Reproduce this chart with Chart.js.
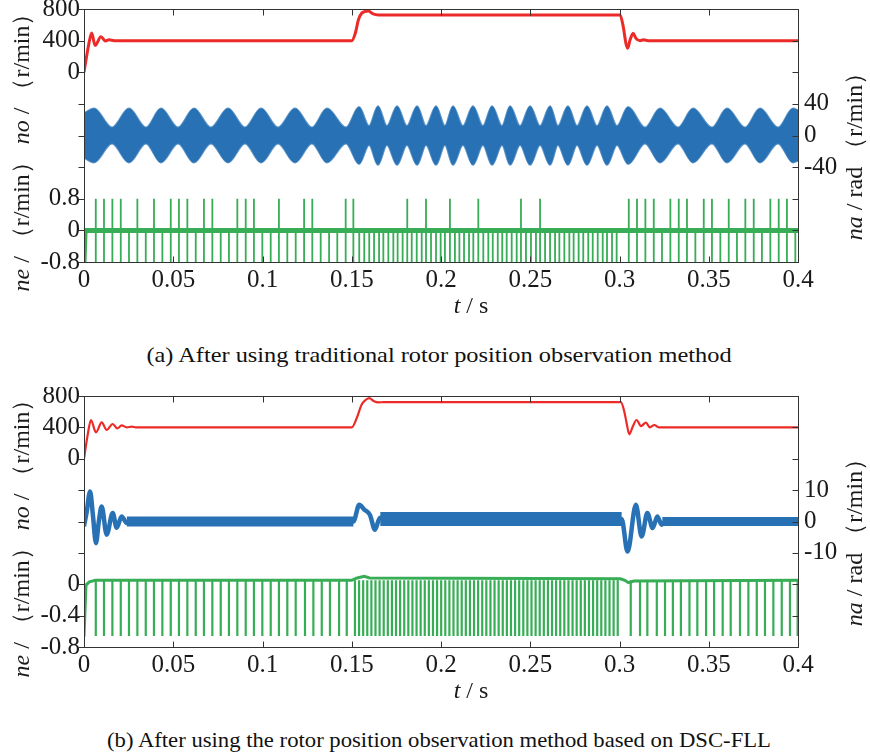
<!DOCTYPE html>
<html>
<head>
<meta charset="utf-8">
<script src="https://cdn.jsdelivr.net/npm/chart.js@4.4.1/dist/chart.umd.min.js"></script>
<style>
    body { margin: 0; background: #fff; width: 870px; height: 756px; position: relative; overflow: hidden; }
    canvas { position: absolute; left: 0; }
    .cap { position: absolute; left: 0; width: 878px; text-align: center; font: 21px "Liberation Serif", "Times New Roman", serif; color: #111; }
</style>
</head>
<body>
<canvas id="chartA" width="870" height="330" style="top:0"></canvas>
<div class="cap" style="top:343px; transform: scaleX(1.16)">(a) After using traditional rotor position observation method</div>
<canvas id="chartB" width="870" height="330" style="top:387px"></canvas>
<div class="cap" style="top:728px; transform: scaleX(1.08)">(b) After using the rotor position observation method based on DSC-FLL</div>
<script>
// Etiquetas de los ejes
const xTickLabels = ["0", "0.05", "0.1", "0.15", "0.2", "0.25", "0.3", "0.35", "0.4"];
const leftTicksA = ["-0.8", "0", "0.8", "", "", "", "0", "400", "800"];
const rightTicksA = ["", "", "", "-40", "0", "40", "", "", ""];
const leftTicksB = ["-0.8", "-0.4", "0", "", "", "", "0", "400", "800"];
const rightTicksB = ["", "", "", "-10", "0", "10", "", "", ""];

const xTitle = [["t", true], [" / s", false]];
const leftTitle = [["ne", true], [" / （r/min） ", false], ["no", true], [" / （r/min）", false]];
const rightTitle = [["na", true], [" / rad （r/min）", false]];

// (a) velocidad (ms, r/min)
const redTimeA = [0, 2.8, 4.3, 6.2, 9.5, 12, 14, 17, 150, 152, 153.7, 155.5, 159.3, 162, 165, 300.3, 302.1, 303.6, 304.6, 305.9, 307.7, 309.2, 311.5, 313.4, 316, 400];
const redSpeedA = [0, 370, 496, 340, 450, 395, 410, 400, 400, 493, 661, 745, 775, 737, 725, 725, 576, 366, 303, 408, 492, 429, 400, 410, 400, 400];

// (a) envolvente del error de posición (ms, amplitud)
const blueEnvTimeA = [0, 5.6, 15.7, 25.2, 34.7, 43.1, 52.7, 61.6, 71.1, 80.7, 90.2, 99.2, 108.7, 118.2, 127.7, 136.1, 146.8,
    154.1, 159.7, 164.7, 169.7, 175.4, 180.9, 186.6, 191.6, 197.2, 202.2, 206.7, 212.3, 217.9, 223.5, 228.6, 234.2, 238.7, 244.3,
    249.9, 255.5, 261.1, 265.5, 271.1, 276.2, 281.8, 287.4, 293.0, 298.6,
    304.8, 314.3, 322.7, 332.8, 341.2, 351.8, 360.2, 370.3, 378.7, 388.8, 397.2, 400];
const blueEnvAmpA = [28, 34, 10, 34, 10, 34, 10, 34, 10, 34, 10, 34, 10, 34, 10, 34, 10,
    36, 12, 37, 12, 37, 12, 37, 12, 37, 12, 37, 12, 37, 12, 37, 12, 37, 12,
    37, 12, 37, 12, 37, 12, 37, 12, 37, 12,
    36, 10, 34, 10, 34, 10, 34, 10, 34, 10, 34, 32];

// (a) error de velocidad: línea base y picos (ms)
const greenBaseTimeA = [0, 0.6, 400];
const greenBaseA = [-0.8, 0, 0];
const spikeTimesA = [6.6, 11.2, 15.9, 20.6, 25.2, 29.9, 34.6, 39.2, 43.9, 48.6, 53.2, 57.9, 62.6, 67.2, 71.9, 76.6, 81.2, 85.9,
    90.6, 95.2, 99.9, 104.6, 109.2, 113.9, 118.6, 123.3, 127.9, 132.6, 137.3, 141.9, 146.6, 150.9,
    154.2, 157.0, 159.8, 162.5, 165.3, 167.7, 170.5, 173.3, 175.7, 178.5, 181.1, 183.6, 186.4, 189.2, 191.6, 194.4, 197.2,
    199.8, 202.2, 205.0, 207.8, 210.3, 212.9, 215.7, 218.1, 220.9, 223.7, 226.5, 229.0, 231.8, 234.3, 236.8, 239.6, 242.4,
    244.8, 247.6, 250.4, 253.2, 255.5, 258.3, 261.1, 263.9, 266.3, 269.1, 271.9, 274.3, 277.1, 279.7, 282.5, 285.0, 287.8,
    290.6, 293.0, 295.8, 298.4,
    305.2, 309.8, 314.5, 319.2, 323.8, 328.5, 333.2, 337.8, 342.5, 347.2, 351.8, 356.5, 361.2, 365.8, 370.5, 375.2, 379.8,
    384.5, 389.2, 393.8, 398.5];
const upSpikesA = [6.6, 11.2, 15.9, 20.6, 29.9, 39.2, 48.6, 53.2, 57.9, 67.2, 71.9, 85.9, 90.6, 95.2, 109.2, 123.3, 127.9,
    146.6, 150.9, 181.1, 191.6, 205.0, 220.9, 244.8, 255.5, 305.2, 309.8, 314.5, 319.2, 328.5, 333.2, 337.8, 347.2, 351.8,
    361.2, 370.5, 375.2, 384.5, 389.2, 393.8];
const spikeHighA = 0.8;
const spikeLowA = -0.8;

// (b) velocidad
const redTimeB = [0, 1.9, 3.9, 6.7, 9.9, 12.7, 16.1, 18.6, 21.1, 24, 26.8, 29, 150, 152.8, 155.5, 157.4, 159.8, 162.5, 165, 168,
    300.8, 302.7, 304, 305.5, 307.4, 309.6, 312, 314.8, 317, 319.5, 322, 400];
const redSpeedB = [0, 282, 494, 336, 464, 367, 443, 387, 425, 400, 410, 400, 400, 519, 689, 743, 772, 732, 718, 722,
    722, 600, 452, 312, 409, 494, 417, 460, 400, 430, 400, 400];

// (b) error de posición: transitorios y banda de ruido
const blueTimeB = [0, 1.5, 3.4, 5, 6.7, 8.3, 9.9, 12.7, 16.1, 18.3, 21.1, 24, 27, 150.9, 154.2, 157, 160.2, 163, 165.8, 168,
    301.2, 304.5, 309.2, 312.4, 315.6, 318.6, 321.2, 323.6, 326, 400];
const blueErrB = [-1.5, 3, 9.6, 2, -6.9, 0, 4.8, -4.2, 2.7, -2, 1.6, -0.5, 0, 0, 5.3, 3.8, 2.1, -2.6, 1.2, 0.8,
    0.8, -9.6, 5.3, -4.8, 2.7, -2.1, 1.6, -1, 0, 0];
const blueNoiseStartB = [24, 166, 324];
const blueNoiseEndB = [150.9, 301.2, 400];
const blueNoiseLevelB = [0, 0.8, 0];

// (b) error de velocidad
const greenBaseTimeB = [0, 1.1, 3, 6.5, 150, 153, 157, 160, 300.5, 303, 305, 308, 400];
const greenBaseB = [-0.67, -0.01, 0.03, 0.05, 0.05, 0.08, 0.1, 0.08, 0.07, 0.05, 0.02, 0.04, 0.05];
const spikeTimesB = [6.6, 11.2, 15.9, 20.6, 25.2, 29.9, 34.6, 39.2, 43.9, 48.6, 53.2, 57.9, 62.6, 67.2, 71.9, 76.6, 81.2, 85.9,
    90.6, 95.2, 99.9, 104.6, 109.2, 113.9, 118.6, 123.8, 128.5, 133.2, 137.8, 142.9, 147.2,
    151.8, 154.1, 156.4, 158.7, 161.0, 163.3, 165.6, 167.9, 170.2, 172.5, 174.8, 177.1, 179.4, 181.7, 184.0, 186.3, 188.6,
    190.9, 193.2, 195.5, 197.8, 200.1, 202.4, 204.7, 207.0, 209.3, 211.6, 213.9, 216.2, 218.5, 220.8, 223.1, 225.4, 227.7,
    230.0, 232.3, 234.6, 236.9, 239.2, 241.5, 243.8, 246.1, 248.4, 250.7, 253.0, 255.3, 257.6, 259.9, 262.2, 264.5, 266.8,
    269.1, 271.4, 273.7, 276.0, 278.3, 280.6, 282.9, 285.2, 287.5, 289.8, 292.1, 294.4, 296.7, 299.0,
    306.3, 311.5, 315.6, 320.9, 325.5, 329.9, 334.4, 339.2, 343.6, 348.5, 353.0, 357.8, 362.3, 367.5, 372.2, 376.9, 381.5,
    386.2, 390.9, 395.5, 399.8];
const spikeTopB = 0.05;
const spikeLowB = -0.66;

const RED = "#ec2a27";
const BLUE = "#2771b4";
const GREEN = "#37ad55";
const FONT = '"Liberation Serif", "Times New Roman", serif';

const pts = (xs, ys) => xs.map((x, i) => ({ x: x, y: ys[i] }));

// Picos verticales: arriba -> abajo -> corte
function spikePoints(times, ups, high, top, low) {
    const res = [];
    times.forEach((t) => {
        res.push({ x: t, y: ups.includes(t) ? high : top });
        res.push({ x: t, y: low });
        res.push({ x: t, y: null });
    });
    return res;
}

function drawRich(ctx, parts, x, y, angle) {
    ctx.save();
    ctx.translate(x, y);
    ctx.rotate(angle);
    ctx.textAlign = "left";
    ctx.textBaseline = "middle";
    ctx.fillStyle = "#1a1a1a";
    let total = 0;
    const widths = parts.map(([txt, it]) => {
        ctx.font = (it ? "italic " : "") + "24px " + FONT;
        const w = ctx.measureText(txt).width;
        total += w;
        return w;
    });
    let cx = -total / 2;
    parts.forEach(([txt, it], i) => {
        ctx.font = (it ? "italic " : "") + "24px " + FONT;
        ctx.fillText(txt, cx, 0);
        cx += widths[i];
    });
    ctx.restore();
}

// Marco, marcas de los ejes y títulos
const marco = {
    id: "marco",
    afterDraw(chart) {
        const { ctx, chartArea: a, scales } = chart;
        const L = Math.round(a.left) + 0.5, R = Math.round(a.right) + 0.5;
        const T = Math.round(a.top) + 0.5, B = Math.round(a.bottom) + 0.5;
        ctx.save();
        ctx.strokeStyle = "#333";
        ctx.lineWidth = 1;
        ctx.strokeRect(L, T, R - L, B - T);
        ctx.beginPath();
        scales.x.ticks.forEach((t) => {
            const px = Math.round(scales.x.getPixelForValue(t.value)) + 0.5;
            ctx.moveTo(px, T); ctx.lineTo(px, T + 6);
            ctx.moveTo(px, B); ctx.lineTo(px, B - 6);
        });
        scales.yRed.ticks.forEach((t) => {
            const py = Math.round(scales.yRed.getPixelForValue(t.value)) + 0.5;
            ctx.moveTo(L - 6, py); ctx.lineTo(L, py);
        });
        scales.yBlue.ticks.forEach((t) => {
            const py = Math.round(scales.yBlue.getPixelForValue(t.value)) + 0.5;
            ctx.moveTo(R - 6, py); ctx.lineTo(R, py);
        });
        ctx.stroke();
        ctx.restore();
        const cy = (a.top + a.bottom) / 2;
        drawRich(ctx, leftTitle, 23, cy + 11, -Math.PI / 2);
        drawRich(ctx, rightTitle, 856, cy + 15, -Math.PI / 2);
        drawRich(ctx, xTitle, (a.left + a.right) / 2 + 30, a.bottom + 45, 0);
    },
};

function crearPanel(id, p) {
    const datasets = [
        { data: pts(p.redTime, p.redVal), yAxisID: "yRed", borderColor: RED, borderWidth: p.redWidth,
            cubicInterpolationMode: "monotone" },
        { data: pts(p.greenTime, p.greenVal), yAxisID: "yGreen", borderColor: GREEN, borderWidth: p.greenWidth },
        { data: p.spikes, yAxisID: "yGreen", borderColor: GREEN, borderWidth: p.spikeWidth, spanGaps: false },
    ].concat(p.blue);

    datasets.forEach((d) => {
        d.pointRadius = 0;
    });

    const tickFont = { family: FONT, size: 25 };

    return new Chart(document.getElementById(id), {
        type: "line",
        data: { datasets: datasets },
        options: {
            responsive: false,
            animation: false,
            events: [],
            layout: { padding: { top: 9, left: 0, right: 0, bottom: 0 } },
            plugins: { legend: { display: false }, tooltip: { enabled: false } },
            scales: {
                x: {
                    type: "linear", min: 0, max: 400, position: "bottom",
                    grid: { display: false, drawTicks: false }, border: { display: false },
                    ticks: { stepSize: 50, autoSkip: false, maxRotation: 0, padding: 3, color: "#1a1a1a", font: tickFont,
                        callback: (v, i) => xTickLabels[i] },
                    afterFit: (s) => { s.height = p.xHeight; s.paddingLeft = 0; s.paddingRight = 0; },
                },
                yRed: {
                    position: "left", min: -2400, max: 800,
                    grid: { display: false, drawTicks: false }, border: { display: false },
                    ticks: { stepSize: 400, autoSkip: false, padding: 4, color: "#1a1a1a", font: tickFont,
                        callback: (v, i) => p.leftTicks[i] },
                    afterFit: (s) => { s.width = 84; s.paddingTop = 0; s.paddingBottom = 0; },
                },
                yBlue: {
                    position: "right", min: p.blueMin, max: p.blueMax,
                    grid: { display: false, drawTicks: false }, border: { display: false },
                    ticks: { stepSize: p.blueStep, autoSkip: false, padding: 6, color: "#1a1a1a", font: tickFont,
                        callback: (v, i) => p.rightTicks[i] },
                    afterFit: (s) => { s.width = 72; s.paddingTop = 0; s.paddingBottom = 0; },
                },
                yGreen: { display: false, min: p.greenMin, max: p.greenMax },
            },
        },
        plugins: [marco],
    });
}

// Panel (a): banda entre envolvente superior e inferior
const envA = [
    { data: pts(blueEnvTimeA, blueEnvAmpA), yAxisID: "yBlue", borderColor: "rgba(39,113,180,0.75)", backgroundColor: BLUE,
        borderWidth: 2, fill: "+1", cubicInterpolationMode: "monotone" },
    { data: pts(blueEnvTimeA, blueEnvAmpA.map((v) => -v)), yAxisID: "yBlue", borderColor: "rgba(39,113,180,0.75)",
        borderWidth: 2, fill: false, cubicInterpolationMode: "monotone" },
];

crearPanel("chartA", {
    redTime: redTimeA, redVal: redSpeedA, redWidth: 3,
    greenTime: greenBaseTimeA, greenVal: greenBaseA, greenWidth: 5,
    spikes: spikePoints(spikeTimesA, upSpikesA, spikeHighA, 0, spikeLowA), spikeWidth: 1.8,
    blue: envA,
    leftTicks: leftTicksA, rightTicks: rightTicksA,
    blueMin: -160, blueMax: 160, blueStep: 40,
    greenMin: -0.8, greenMax: 5.6,
    xHeight: 68,
});

// Panel (b): transitorios + banda de ruido
const noiseWidths = [10, 14, 9];
const blueB = [{ data: pts(blueTimeB, blueErrB), yAxisID: "yBlue", borderColor: BLUE, borderWidth: 4.5,
    cubicInterpolationMode: "monotone" }];
blueNoiseStartB.forEach((s, i) => {
    blueB.push({
        data: pts([s, blueNoiseEndB[i]], [blueNoiseLevelB[i], blueNoiseLevelB[i]]),
        yAxisID: "yBlue", borderColor: BLUE, borderWidth: noiseWidths[i], borderCapStyle: "butt",
    });
});

crearPanel("chartB", {
    redTime: redTimeB, redVal: redSpeedB, redWidth: 2.2,
    greenTime: greenBaseTimeB, greenVal: greenBaseB, greenWidth: 3,
    spikes: spikePoints(spikeTimesB, [], spikeTopB, spikeTopB, spikeLowB), spikeWidth: 2.2,
    blue: blueB,
    leftTicks: leftTicksB, rightTicks: rightTicksB,
    blueMin: -40, blueMax: 40, blueStep: 10,
    greenMin: -0.8, greenMax: 2.4,
    xHeight: 70,
});
</script>
</body>
</html>
